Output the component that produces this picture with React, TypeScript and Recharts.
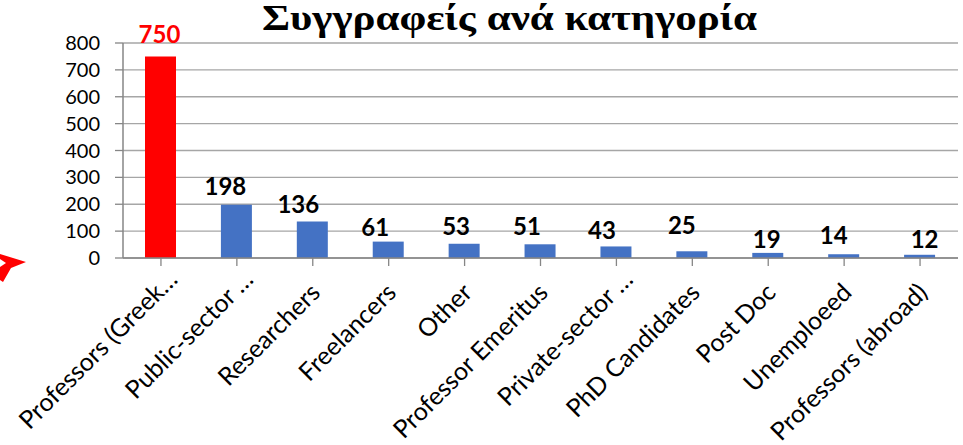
import React from 'react';
import { BarChart, Bar, XAxis, YAxis, CartesianGrid, Cell } from 'recharts';

const title = 'Συγγραφείς ανά κατηγορία';
const categories = [
  'Professors (Greek…',
  'Public-sector …',
  'Researchers',
  'Freelancers',
  'Other',
  'Professor Emeritus',
  'Private-sector …',
  'PhD Candidates',
  'Post Doc',
  'Unemploeed',
  'Professors (abroad)',
];
const authors = [750, 198, 136, 61, 53, 51, 43, 25, 19, 14, 12];
const yTicks = [0, 100, 200, 300, 400, 500, 600, 700, 800];

// label styling nudges (relative to each bar's top centre)
const labelNudgeX = [-1, -11, -14, -13, -8, -13, -14, -10, -1, -10, 5];
const labelGap = [13, 10, 8, 6, 9, 9, 7, 17, 5, 10, 7];

const data = categories.map((c, i) => ({ category: c, value: authors[i] }));

const FONT = 'Lato, "Open Sans", sans-serif';

const XTick = (props: any) => {
  const { x, y, payload } = props;
  const label: string = payload.value;
  const trunc = label.endsWith('…');
  const ax = x + (trunc ? 18 : 9);
  const ay = y + (trunc ? 13 : 26);
  return (
    <text
      x={ax}
      y={ay}
      transform={`rotate(-45, ${ax}, ${ay})`}
      textAnchor="end"
      fontSize={25}
      fontFamily={FONT}
      fill="#000"
    >
      {label}
    </text>
  );
};

const ValueLabel = (props: any) => {
  const { x, y, width, value } = props;
  let idx = props.index;
  if (idx === undefined || idx === null) idx = authors.indexOf(Number(value));
  const cx = Number(x) + Number(width) / 2 + (labelNudgeX[idx] || 0);
  const ty = Number(y) - (labelGap[idx] || 8);
  return (
    <text
      x={cx}
      y={ty}
      textAnchor="middle"
      fontSize={24}
      fontWeight="bold"
      fontFamily={FONT}
      fill={idx === 0 ? '#FF0000' : '#000'}
    >
      {value}
    </text>
  );
};

export default function App() {
  return (
    <div style={{ position: 'relative', width: 963, height: 445, background: '#fff' }}>
      <style>{'body{margin:0;}'}</style>
      <BarChart
        width={963}
        height={445}
        data={data}
        margin={{ top: 43, right: 5, bottom: 0, left: 0 }}
        barSize={31}
      >
        <CartesianGrid vertical={false} stroke="#a6a6a6" strokeWidth={1.3} />
        <XAxis
          dataKey="category"
          interval={0}
          height={187}
          tickSize={8}
          tickMargin={2}
          axisLine={{ stroke: '#868686', strokeWidth: 1.5 }}
          tickLine={{ stroke: '#868686', strokeWidth: 1.3 }}
          tick={<XTick />}
        />
        <YAxis
          domain={[0, 800]}
          ticks={yTicks}
          interval={0}
          width={123}
          tickSize={8}
          tickMargin={15}
          axisLine={{ stroke: '#868686', strokeWidth: 1.5 }}
          tickLine={{ stroke: '#868686', strokeWidth: 1.3 }}
          tick={{ fontSize: 20, fill: '#000', fontFamily: FONT }}
        />
        <Bar dataKey="value" isAnimationActive={false} label={<ValueLabel />}>
          {data.map((d, i) => (
            <Cell key={d.category} fill={i === 0 ? '#FF0000' : '#4472C4'} />
          ))}
        </Bar>
      </BarChart>
      <svg
        width={963}
        height={445}
        style={{ position: 'absolute', left: 0, top: 0, pointerEvents: 'none' }}
      >
        <text
          x={262}
          y={30}
          textLength={495}
          lengthAdjust="spacingAndGlyphs"
          fontSize={35}
          fontWeight="bold"
          fontFamily='"Liberation Serif", "DejaVu Serif", serif'
          fill="#000"
        >
          {title}
        </text>
        <path d="M0,254 L26,262 L11,268 L3,282 L0,280 L0,267 L6,263 L0,259 Z" fill="#FF0000" />
      </svg>
    </div>
  );
}
